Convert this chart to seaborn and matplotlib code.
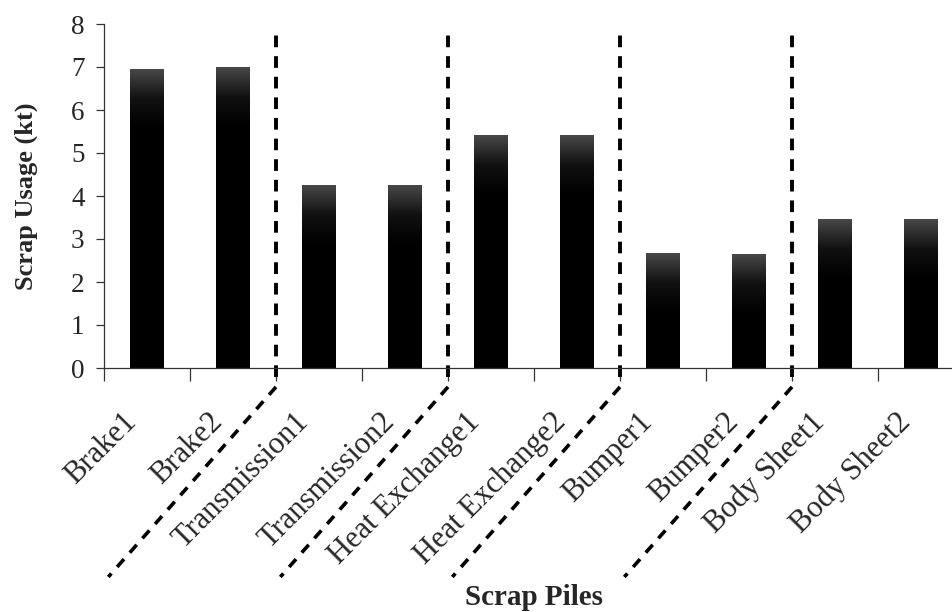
import matplotlib
matplotlib.use("Agg")
import matplotlib.pyplot as plt
import matplotlib.transforms as mtransforms
from matplotlib.colors import LinearSegmentedColormap
import numpy as np
import seaborn as sns
import pandas as pd

# Scrap piles and their usage (kt)
piles = ["Brake1", "Brake2", "Transmission1", "Transmission2",
         "Heat Exchange1", "Heat Exchange2", "Bumper1", "Bumper2",
         "Body Sheet1", "Body Sheet2"]
usage = [6.95, 7.0, 4.25, 4.25, 5.42, 5.42, 2.67, 2.65, 3.47, 3.47]
y_ticks = [0, 1, 2, 3, 4, 5, 6, 7, 8]
# boundaries between the pile groups
group_bounds = [1.5, 3.5, 5.5, 7.5]

sns.set_theme(style="white")
plt.rcParams["font.family"] = ["Liberation Serif", "DejaVu Serif"]

fig = plt.figure(figsize=(9.52, 6.12), dpi=100)
W, H = 952, 612
ax = fig.add_axes([104 / W, 1 - 368 / H, 860 / W, 344 / H])

df = pd.DataFrame({"pile": piles, "usage": usage})
sns.barplot(data=df, x="pile", y="usage", color="black", saturation=1,
            width=0.39, ax=ax, edgecolor="black", linewidth=0)

# softer, lighter top on each bar
fade = LinearSegmentedColormap.from_list("fade", ["#000000", "#111111", "#4a4a4a"])
grad = np.linspace(0, 1, 128).reshape(-1, 1)
for patch in list(ax.patches):
    x0 = patch.get_x()
    x1 = x0 + patch.get_width()
    top = patch.get_height()
    im = ax.imshow(grad, cmap=fade, origin="lower", aspect="auto",
                   extent=[x0, x1, top - 1.4, top], zorder=patch.get_zorder() + 0.1,
                   interpolation="bilinear")
    im.set_clip_path(patch)
ax.set_xlim(-0.5, len(piles) - 0.5)
ax.set_ylim(0, 8)

ax.set_yticks(y_ticks)
ax.set_yticklabels([str(v) for v in y_ticks], fontsize=19.5)

# spines
for side in ("top", "right"):
    ax.spines[side].set_visible(False)
for side in ("left", "bottom"):
    ax.spines[side].set_color("#333333")
    ax.spines[side].set_linewidth(0.9)

ax.tick_params(axis="y", direction="out", length=6, width=0.9,
               color="#333333", pad=8, left=True)
# tick marks sit between the piles, labels at the pile centres
ax.set_xticks([i - 0.5 for i in range(len(piles) + 1)], minor=True)
ax.tick_params(axis="x", which="minor", direction="out", length=9,
               width=0.9, color="#333333", bottom=True)
ax.tick_params(axis="x", which="major", length=0, pad=14)
ax.set_xticks(range(len(piles)))
ax.set_xticklabels(piles, rotation=45, ha="right", va="center",
                   rotation_mode="anchor", fontsize=22)
offset = mtransforms.ScaledTranslation(-15 / 100, -30 / 100, fig.dpi_scale_trans)
for lab in ax.get_xticklabels():
    lab.set_transform(lab.get_transform() + offset)

ax.set_ylabel("Scrap Usage (kt)", fontsize=19, fontweight="bold", labelpad=24)
ax.set_xlabel("Scrap Piles", fontsize=21, fontweight="bold")
ax.xaxis.set_label_coords(0.5, -0.666)
ax.xaxis.label.set_va("center")

# dashed separators between pile groups, continuing down through the labels
for b in group_bounds:
    ax.plot([b, b], [-0.22, 7.85], color="black", lw=2.8,
            dashes=(3.0, 2.3), clip_on=False, solid_capstyle="butt")
    ax.plot([b, b - 1.95], [-0.44, -4.86], color="black", lw=2.6,
            dashes=(2.9, 2.4), clip_on=False)

fig.savefig("out.png", dpi=100)
